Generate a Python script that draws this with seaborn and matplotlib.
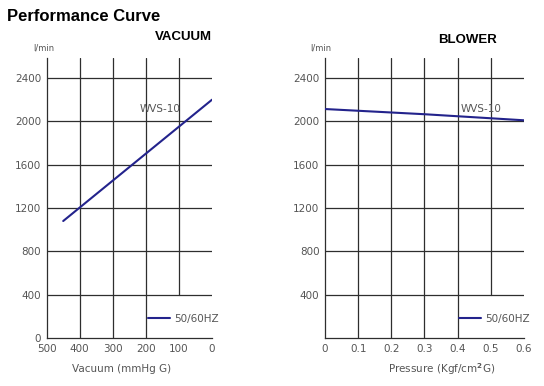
import matplotlib
matplotlib.use("Agg")
import matplotlib.pyplot as plt
import seaborn as sns
import pandas as pd

# ── DATA ─────────────────────────────────────────────────────────────────────
vacuum_mmhg = [450, 0]
vacuum_flow = [1080, 2200]
pressure_kgf = [0.0, 0.3, 0.6]
blower_flow = [2114, 2066, 2010]
y_ticks = [0, 400, 800, 1200, 1600, 2000, 2400]
vac_ticks = [500, 400, 300, 200, 100, 0]
press_ticks = [0, 0.1, 0.2, 0.3, 0.4, 0.5, 0.6]
model = "WVS-10"
series_label = "50/60HZ"

sns.set_style("white")
plt.rcParams["font.family"] = ["DejaVu Sans"]

LINE_C = "#23238c"
GRID_C = "#2e2e2e"
TXT_C = "#555555"
YTOP = 2585

fig = plt.figure(figsize=(5.44, 3.86), dpi=100)
ax1 = fig.add_axes([0.0858, 0.1244, 0.3039, 0.7253])
ax2 = fig.add_axes([0.5974, 0.1244, 0.3658, 0.7253])

vac_df = pd.DataFrame({"x": vacuum_mmhg, "y": vacuum_flow})
blo_df = pd.DataFrame({"x": pressure_kgf, "y": blower_flow})

def style_axis(ax, xticks, xlim, show_zero):
    ax.set_xlim(*xlim)
    ax.set_ylim(0, YTOP)
    ax.set_xticks(xticks)
    ax.set_yticks(y_ticks if show_zero else y_ticks[1:])
    ax.tick_params(length=0, labelsize=7.5, labelcolor=TXT_C, pad=4)
    for s in ["top", "right"]:
        ax.spines[s].set_visible(False)
    for s in ["left", "bottom"]:
        ax.spines[s].set_color(GRID_C)
        ax.spines[s].set_linewidth(0.9)
    # horizontal grid
    for yv in y_ticks[1:]:
        ax.axhline(yv, color=GRID_C, lw=0.9, zorder=1)
    # vertical grid (interior ticks), last one stops at 400 to leave room for the legend
    inner = [t for t in xticks if t not in (xlim[0], xlim[1])]
    for i, xv in enumerate(inner):
        ymin = 400 / YTOP if i == len(inner) - 1 else 0
        ax.axvline(xv, ymin=ymin, ymax=1, color=GRID_C, lw=0.9, zorder=1)
    ax.text(-0.02, 1.036, "l/min", transform=ax.transAxes, ha="center",
            va="center", fontsize=6, color=TXT_C)

style_axis(ax1, vac_ticks, (500, 0), True)
style_axis(ax2, press_ticks, (0, 0.6), False)
ax1.set_xticklabels([str(t) for t in vac_ticks])
ax2.set_xticklabels(["0", "0.1", "0.2", "0.3", "0.4", "0.5", "0.6"])

sns.lineplot(data=vac_df, x="x", y="y", ax=ax1, color=LINE_C, lw=1.5,
             label=series_label, zorder=3)
sns.lineplot(data=blo_df, x="x", y="y", ax=ax2, color=LINE_C, lw=1.5,
             label=series_label, zorder=3)

for ax, lx, ly in [(ax1, 157, 2110), (ax2, 0.47, 2110)]:
    ax.text(lx, ly, model, ha="center", va="center", fontsize=7.5, color=TXT_C)

ax1.set_xlabel("Vacuum (mmHg G)", fontsize=7.5, color=TXT_C)
ax1.xaxis.set_label_coords(0.455, -0.093)
ax2.set_xlabel("Pressure (Kgf/cm$^{\\mathbf{2}}$G)", fontsize=7.5, color=TXT_C)
ax2.xaxis.set_label_coords(0.588, -0.082)
ax1.set_ylabel("")
ax2.set_ylabel("")

for ax, x0 in [(ax1, 0.612), (ax2, 0.672)]:
    leg = ax.legend(loc="center left", bbox_to_anchor=(x0, 0.068), frameon=False,
                    fontsize=7.5, handlelength=2.1, handletextpad=0.4,
                    borderpad=0, borderaxespad=0)
    for t in leg.get_texts():
        t.set_color(TXT_C)

ax1.text(1.0, 1.075, "VACUUM", transform=ax1.transAxes, ha="right", va="center",
         fontsize=9.5, fontweight="bold", family="Liberation Sans", color="black")
ax2.text(0.716, 1.064, "BLOWER", transform=ax2.transAxes, ha="center", va="center",
         fontsize=9.5, fontweight="bold", family="Liberation Sans", color="black")
fig.text(7 / 544, 1 - 9 / 386, "Performance Curve", ha="left", va="top",
         fontsize=12, fontweight="bold", family="Liberation Sans", color="black")

plt.savefig("out.png", dpi=100)
